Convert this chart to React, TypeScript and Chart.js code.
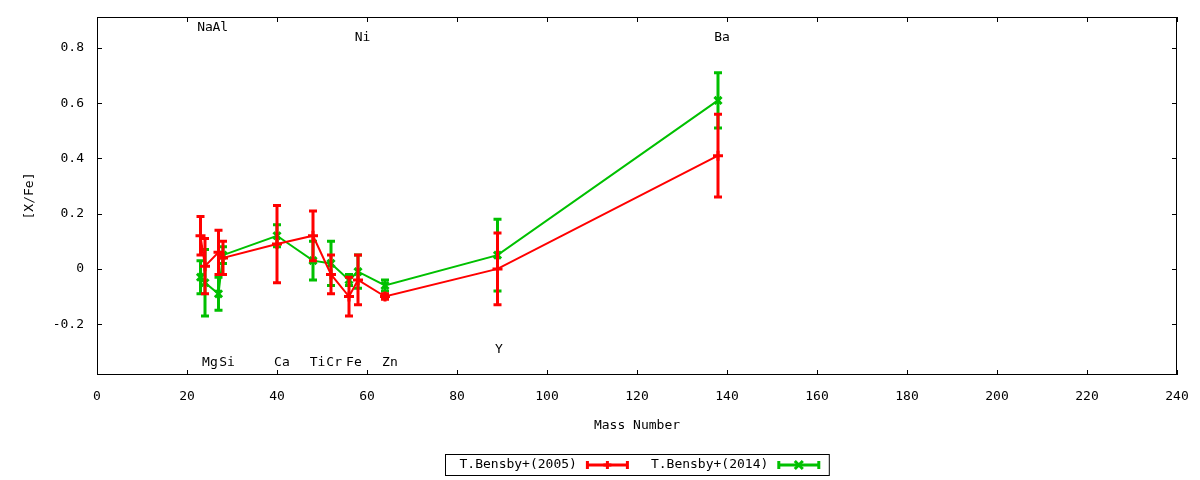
import React, { useEffect, useRef } from 'react';
import { Chart, registerables } from 'chart.js';

Chart.register(...registerables);

// Mass numbers of the elements, in plotting order
const ELEMENTS = ['Na', 'Mg', 'Al', 'Si', 'Ca', 'Ti', 'Cr', 'Fe', 'Ni', 'Zn', 'Y', 'Ba'];
const MASS = [23, 24, 27, 28, 40, 48, 52, 56, 58, 64, 89, 138];

// [X/Fe] and errors
const BENSBY2005 = [0.12, 0.01, 0.06, 0.04, 0.09, 0.12, -0.02, -0.10, -0.04, -0.10, 0.00, 0.41];
const BENSBY2005_ERR = [0.07, 0.10, 0.08, 0.06, 0.14, 0.09, 0.07, 0.07, 0.09, 0.01, 0.13, 0.15];
const BENSBY2014 = [-0.03, -0.05, -0.09, 0.05, 0.12, 0.03, 0.02, -0.04, -0.01, -0.06, 0.05, 0.61];
const BENSBY2014_ERR = [0.06, 0.12, 0.06, 0.03, 0.04, 0.07, 0.08, 0.02, 0.06, 0.02, 0.13, 0.10];

const X_TICKS = [0, 20, 40, 60, 80, 100, 120, 140, 160, 180, 200, 220, 240];
const Y_TICKS = [-0.2, 0, 0.2, 0.4, 0.6, 0.8];

// element name labels placed in data coordinates
const LABEL_NAMES = ['Na', 'Al', 'Ni', 'Ba', 'Mg', 'Si', 'Ca', 'Ti', 'Cr', 'Fe', 'Zn', 'Y'];
const LABEL_X = [24.0, 27.4, 59.0, 138.9, 25.1, 28.9, 41.1, 49.0, 52.7, 57.1, 65.1, 89.3];
const LABEL_Y = [0.872, 0.872, 0.838, 0.838, -0.34, -0.34, -0.34, -0.34, -0.34, -0.34, -0.34, -0.291];

const FONT = '"DejaVu Sans Mono", "Liberation Mono", monospace';
const RED = '#ff0000';
const GREEN = '#00c000';

const drawMarker = (ctx: CanvasRenderingContext2D, style: string, x: number, y: number, r: number) => {
  ctx.beginPath();
  if (style === 'crossRot') {
    ctx.moveTo(x - r, y - r); ctx.lineTo(x + r, y + r);
    ctx.moveTo(x - r, y + r); ctx.lineTo(x + r, y - r);
  } else {
    ctx.moveTo(x - r, y); ctx.lineTo(x + r, y);
    ctx.moveTo(x, y - r); ctx.lineTo(x, y + r);
  }
  ctx.stroke();
};

const errorBars = {
  id: 'errorBars',
  afterDatasetDraw(chart: any, args: any) {
    const ds = chart.data.datasets[args.index];
    if (!ds.errors) return;
    const { ctx, scales: { x, y } } = chart;
    ctx.save();
    ctx.strokeStyle = ds.borderColor;
    ctx.lineWidth = 3;
    ds.data.forEach((p: any, i: number) => {
      const e = ds.errors[i];
      const px = x.getPixelForValue(p.x);
      const top = y.getPixelForValue(p.y + e);
      const bot = y.getPixelForValue(p.y - e);
      ctx.beginPath();
      ctx.moveTo(px, top); ctx.lineTo(px, bot);
      ctx.moveTo(px - 4, top); ctx.lineTo(px + 4, top);
      ctx.moveTo(px - 4, bot); ctx.lineTo(px + 4, bot);
      ctx.stroke();
    });
    ctx.restore();
  }
};

const gnuplotFrame = {
  id: 'gnuplotFrame',
  afterDraw(chart: any) {
    const { ctx, chartArea: a, scales: { x, y } } = chart;
    ctx.save();
    ctx.strokeStyle = '#000';
    ctx.lineWidth = 1;
    ctx.strokeRect(a.left + 0.5, a.top + 0.5, a.right - a.left - 1, a.bottom - a.top - 1);
    ctx.beginPath();
    X_TICKS.forEach(v => {
      const px = Math.round(x.getPixelForValue(v)) + 0.5;
      ctx.moveTo(px, a.bottom); ctx.lineTo(px, a.bottom - 5);
      ctx.moveTo(px, a.top); ctx.lineTo(px, a.top + 5);
    });
    Y_TICKS.forEach(v => {
      const py = Math.round(y.getPixelForValue(v)) + 0.5;
      ctx.moveTo(a.left, py); ctx.lineTo(a.left + 5, py);
      ctx.moveTo(a.right, py); ctx.lineTo(a.right - 5, py);
    });
    ctx.stroke();

    // element labels
    ctx.font = `13px ${FONT}`;
    ctx.fillStyle = '#000';
    ctx.textAlign = 'center';
    ctx.textBaseline = 'middle';
    LABEL_NAMES.forEach((name, i) => {
      ctx.fillText(name, x.getPixelForValue(LABEL_X[i]), y.getPixelForValue(LABEL_Y[i]));
    });

    // gnuplot style key below the plot
    const entries = chart.data.datasets.map((ds: any) => ({
      label: ds.label, color: ds.borderColor, style: ds.pointStyle, w: ctx.measureText(ds.label).width
    }));
    const sampleW = 43, padL = 14, gapT = 9, gapE = 22, padR = 9;
    let total = padL + padR + gapE * (entries.length - 1);
    entries.forEach((e: any) => { total += e.w + gapT + sampleW; });
    const left = Math.round((a.left + a.right) / 2 - total / 2) + 0.5;
    const top = chart.height - 26 + 0.5;
    const h = 21;
    ctx.strokeRect(left, top, total, h);
    const cy = top + h / 2;
    let cx = left + padL;
    entries.forEach((e: any) => {
      ctx.fillStyle = '#000';
      ctx.textAlign = 'left';
      ctx.fillText(e.label, cx, cy);
      cx += e.w + gapT;
      ctx.strokeStyle = e.color;
      ctx.lineWidth = 3;
      ctx.beginPath();
      ctx.moveTo(cx, cy); ctx.lineTo(cx + sampleW, cy);
      ctx.moveTo(cx + 1.5, cy - 4); ctx.lineTo(cx + 1.5, cy + 4);
      ctx.moveTo(cx + sampleW - 1.5, cy - 4); ctx.lineTo(cx + sampleW - 1.5, cy + 4);
      ctx.stroke();
      drawMarker(ctx, e.style, cx + sampleW / 2, cy, 4);
      cx += sampleW + gapE;
    });
    ctx.restore();
  }
};

const App: React.FC = () => {
  const canvasRef = useRef<HTMLCanvasElement>(null);
  const chartRef = useRef<Chart | null>(null);

  useEffect(() => {
    document.body.style.margin = '0';
    if (!canvasRef.current) return;
    if (chartRef.current) chartRef.current.destroy();

    const tickFont = { family: FONT, size: 13 };

    chartRef.current = new Chart(canvasRef.current, {
      type: 'scatter',
      data: {
        datasets: [
          {
            label: 'T.Bensby+(2005)',
            data: MASS.map((m, i) => ({ x: m, y: BENSBY2005[i] })),
            errors: BENSBY2005_ERR,
            showLine: true,
            borderColor: RED,
            backgroundColor: RED,
            borderWidth: 2,
            pointStyle: 'cross',
            pointRadius: 5,
            pointBorderWidth: 3,
          } as any,
          {
            label: 'T.Bensby+(2014)',
            data: MASS.map((m, i) => ({ x: m, y: BENSBY2014[i] })),
            errors: BENSBY2014_ERR,
            showLine: true,
            borderColor: GREEN,
            backgroundColor: GREEN,
            borderWidth: 2,
            pointStyle: 'crossRot',
            pointRadius: 5,
            pointBorderWidth: 3,
          } as any,
        ],
      },
      options: {
        animation: false,
        responsive: true,
        maintainAspectRatio: false,
        layout: { padding: { left: 0, top: 17, right: 23, bottom: 0 } },
        scales: {
          x: {
            type: 'linear',
            min: 0,
            max: 240,
            afterBuildTicks: (s: any) => { s.ticks = X_TICKS.map(value => ({ value })); },
            afterFit: (s: any) => { s.height = 105; s.paddingLeft = 0; s.paddingRight = 0; },
            ticks: { font: tickFont, color: '#000', padding: 14, maxRotation: 0, autoSkip: false },
            grid: { display: false, drawTicks: false },
            border: { display: false },
            title: { display: true, text: 'Mass Number', font: tickFont, color: '#000', padding: { bottom: 47 } },
          },
          y: {
            type: 'linear',
            min: -0.384,
            max: 0.912,
            afterBuildTicks: (s: any) => { s.ticks = Y_TICKS.map(value => ({ value })); },
            afterFit: (s: any) => { s.width = 97; s.paddingTop = 0; s.paddingBottom = 0; },
            ticks: {
              font: tickFont,
              color: '#000',
              padding: 13,
              callback: (v: any) => (v === 0 ? '0' : Number(v).toFixed(1)),
            },
            grid: { display: false, drawTicks: false },
            border: { display: false },
            title: { display: true, text: '[X/Fe]', font: tickFont, color: '#000', padding: { top: 22 } },
          },
        },
        plugins: {
          legend: { display: false },
          tooltip: { enabled: false },
        },
      },
      plugins: [errorBars, gnuplotFrame],
    });

    return () => {
      if (chartRef.current) {
        chartRef.current.destroy();
        chartRef.current = null;
      }
    };
  }, []);

  return (
    <div style={{ position: 'relative', width: 1200, height: 480, background: '#fff' }}>
      <canvas ref={canvasRef} />
    </div>
  );
};

export default App;
